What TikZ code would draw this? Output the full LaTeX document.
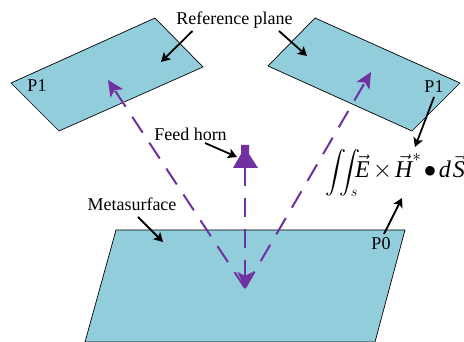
\documentclass[tikz,border=0pt]{standalone}
\usepackage{amsmath}
\usepackage{amssymb}
\usepackage{xcolor}
\usepackage{fontspec}
\setmainfont{Liberation Serif}
\usetikzlibrary{
	arrows.meta,
	calc
}
\definecolor{PlaneBlue}{RGB}{146,205,220}
\definecolor{RayPurple}{RGB}{112,48,160}
\tikzset{
	plane/.style={draw=black, fill=PlaneBlue, line width=0.7pt, line join=round},
	ray/.style={RayPurple, line width=2pt, dash pattern=on 19pt off 12pt, -{Stealth[length=16pt, width=15pt, inset=4pt]}},
	pointer/.style={black, line width=1.8pt, -{Stealth[length=9pt, width=10pt, inset=2pt]}},
	tag/.style={font=\fontsize{18}{20}\selectfont, inner sep=0pt}
}
\begin{document}
\begin{tikzpicture}[x=1pt, y=-1pt]
		\useasboundingbox (0,0) rectangle (464,342);
		% planes
		\draw[plane] (11,83) -- (155,18) -- (203,67) -- (59,131) -- cycle;
		\draw[plane] (268,66) -- (315,18) -- (460,83) -- (412,131) -- cycle;
		\draw[plane] (116,230) -- (405,230) -- (375,342) -- (85,342) -- cycle;
		
		\coordinate (O) at (245,288);
		\coordinate (L) at (108,80);
		\coordinate (R) at (371,72);
		\coordinate (H) at (245,167);
		
		\draw[ray] (O) -- (L);
		\draw[ray] (O) -- (R);
		\draw[ray] (H) -- (O);
		
		% horn
		\fill[RayPurple] (241,145) -- (249,145) -- (249,154) -- (258,168) -- (233,168) -- (241,154) -- cycle;
		
		\node[tag] (ref) at (234.5,20) {Reference plane};
		\node[tag] (feed) at (190.5,134) {Feed horn};
		\node[tag] (meta) at (132,204) {Metasurface};
		\node[tag] (pa) at (37,86) {P1};
		\node[tag] (pb) at (434,87) {P1};
		\node[tag] (pc) at (381,244) {P0};
		\node[font=\fontsize{21}{23}\selectfont, anchor=west, inner sep=0pt] (flux) at (325,173) {$\displaystyle\iint_{s}$\kern-3pt\fontsize{24}{26}\selectfont$\vec{\textit{E}}\kern3pt{\times}\kern3pt\vec{\textit{H}}^{*}\kern1pt\mkern-3mu\bullet\mkern-3mu\kern1pt\textit{d}\kern2pt\vec{\textit{S}}$};
		
		\coordinate (refl) at (161,62);
		\coordinate (refr) at (307,56);
		\coordinate (hornin) at (237,157);
		\coordinate (metain) at (163,242);
		\coordinate (fluxtop) at (415,147);
		\coordinate (fluxbot) at (402,198);
		
		\draw[pointer] ($(ref)+(-42,11)$) -- (refl);
		\draw[pointer] ($(ref)+(44.5,11)$) -- (refr);
		\draw[pointer] ($(feed)+(14.5,9)$) -- (hornin);
		\draw[pointer] ($(meta)+(6,13)$) -- (metain);
		\draw[pointer] ($(pb)+(0,10)$) -- (fluxtop);
		\draw[pointer] ($(pc)+(3,-10)$) -- (fluxbot);
	\end{tikzpicture}
\end{document}
